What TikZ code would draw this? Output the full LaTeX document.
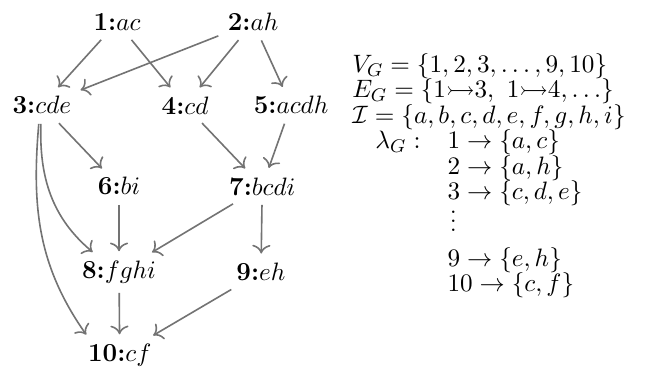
\documentclass[tikz,border=0pt]{standalone}
\usepackage{amsmath,amssymb}
\usetikzlibrary{arrows.meta,positioning}

\begin{document}
\begin{tikzpicture}[
  vert/.style={inner sep=3pt, font=\fontsize{11.3}{13.5}\selectfont},
  dep/.style={-{To[scale=1.2]}, draw=black!55, line width=0.7pt, shorten >=1pt, shorten <=1pt},
]
  \useasboundingbox (0,0) rectangle (10,5.72);

  % Vertices
  \node[vert] (v1) at (1.79,5.38) {\textbf{1:}$ac$};
  \node[vert] (v2) at (3.87,5.38) {\textbf{2:}$ah$};
  \node[vert] (v3) at (0.64,4.11) {\textbf{3:}$cde$};
  \node[vert] (v4) at (2.83,4.11) {\textbf{4:}$cd$};
  \node[vert] (v5) at (4.45,4.11) {\textbf{5:}$acdh$};
  \node[vert] (v6) at (1.82,2.87) {\textbf{6:}$bi$};
  \node[vert] (v7) at (4.01,2.87) {\textbf{7:}$bcdi$};
  \node[vert] (v8) at (1.82,1.56) {\textbf{8:}$fghi$};
  \node[vert] (v9) at (3.99,1.56) {\textbf{9:}$eh$};
  \node[vert] (v10) at (1.83,0.29) {\textbf{10:}$cf$};

  % Edges
  \draw[dep] (v1) -- (v3);
  \draw[dep] (v1) -- (v4);
  \draw[dep] (v2) -- (v3);
  \draw[dep] (v2) -- (v4);
  \draw[dep] (v2) -- (v5);
  \draw[dep] (v3) -- (v6);
  \draw[dep] (v4) -- (v7);
  \draw[dep] (v5) -- (v7);
  \draw[dep] (v6) -- (v8);
  \draw[dep] (v7) -- (v8);
  \draw[dep] (v7) -- (v9);
  \draw[dep] (v8) -- (v10);
  \draw[dep] (v9) -- (v10);
  \draw[dep] (v3.-93) to[out=-92, in=140] (v8.143);
  \draw[dep] (v3.-100) to[out=-95, in=125] (v10.150);

  % Description of the graph
  \node[anchor=north west, inner sep=0pt, font=\fontsize{11.2}{13.6}\selectfont]
    (info) at (5.38,4.91) {$
    \renewcommand{\arraystretch}{0.7}
    \begin{array}{@{}l@{\hspace{1.05em}}l@{}}
      \multicolumn{2}{@{}l@{}}{V_G = \{1,2,3,\ldots,9,10\}}\\
      \multicolumn{2}{@{}l@{}}{E_G = \{1{\rightarrowtail}3,\ 1{\rightarrowtail}4,\ldots\}}\\
      \multicolumn{2}{@{}l@{}}{\mathcal{I} = \{a,b,c,d,e,f,g,h,i\}}\\
      \hspace{0.9em}\lambda_G: & 1 \rightarrow \{a,c\}\\
                              & 2 \rightarrow \{a,h\}\\
                              & 3 \rightarrow \{c,d,e\}\\[-4pt]
                              & \hspace{1pt}\vdots\\[4pt]
                              & 9 \rightarrow \{e,h\}\\
                              & 10 \rightarrow \{c,f\}
    \end{array}$};
\end{tikzpicture}
\end{document}
